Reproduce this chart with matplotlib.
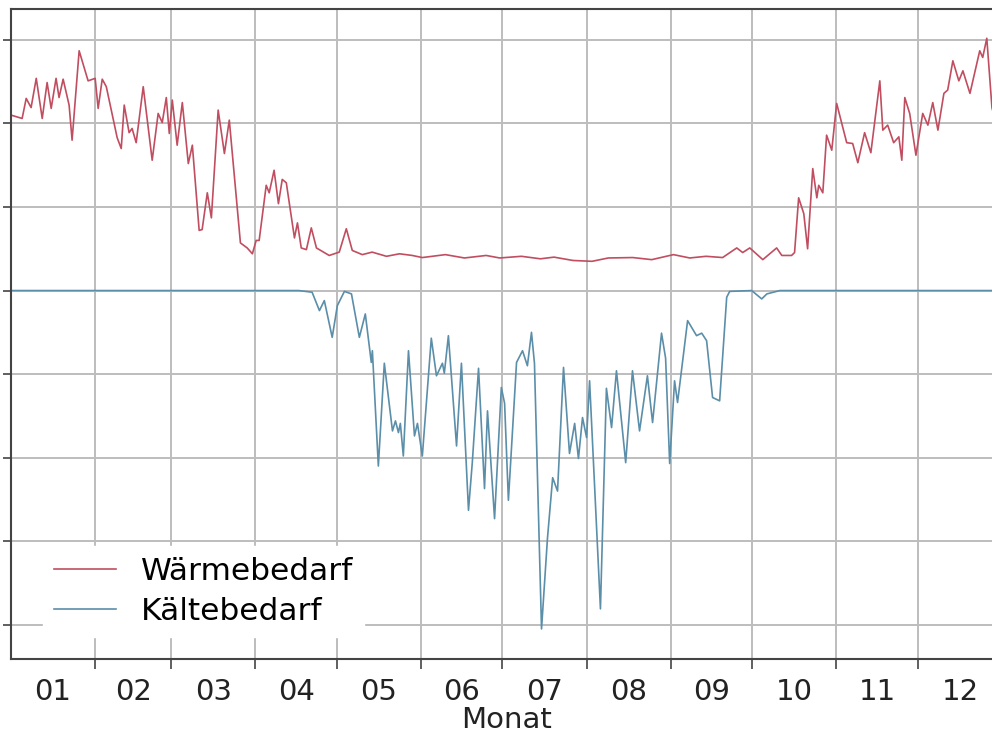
import numpy as np
import matplotlib
matplotlib.use("Agg")
import matplotlib.pyplot as plt

# Tagesnummer im Jahr (0 = 1. Januar) und Bedarf
waerme_tag = [0, 4.1, 5.6, 7.4, 9.3, 11.5, 13.3, 14.8, 16.6, 17.7, 19.2, 21.4, 22.5, 25.1, 28.4,
              31.0, 32.1, 33.6, 35.1, 39.1, 40.6, 41.7, 43.5, 44.6, 46.1, 48.7, 52.0, 54.2, 55.7,
              57.2, 58.3, 59.4, 61.2, 63.1, 65.3, 66.8, 69.3, 70.4, 72.3, 73.8, 76.3, 78.6, 80.4,
              84.5, 87.0, 88.9, 90.3, 91.4, 94.0, 95.1, 96.9, 98.5, 99.9, 101.4, 104.4, 105.5,
              106.9, 108.8, 110.6, 112.5, 117.2, 120.9, 123.5, 125.7, 129.4, 133.0, 138.3, 143.1,
              147.8, 151.5, 160, 167, 175, 180, 188, 195, 200, 207, 214, 220, 229, 236, 244, 250,
              256, 262.1, 267.3, 269.5, 272.1, 276.9, 282.0, 283.9, 287.5, 288.6, 290.1, 292.0,
              293.4, 295.3, 296.8, 297.5, 299.0, 300.4, 302.3, 304.1, 307.8, 310.0, 311.9, 314.4,
              316.7, 320.0, 321.1, 322.9, 325.1, 327.0, 328.1, 329.2, 331.0, 333.3, 335.8, 337.7,
              339.5, 341.4, 343.6, 345.0, 346.9, 349.1, 350.6, 353.2, 356.8, 357.9, 359.4, 361.3,
              363.5]
waerme = [21.0, 20.6, 23.0, 21.9, 25.4, 20.6, 24.9, 21.8, 25.4, 23.1, 25.3, 22.2, 18.0, 28.7, 25.1,
          25.4, 21.8, 25.3, 24.4, 18.3, 17.0, 22.2, 18.9, 19.4, 17.7, 24.4, 15.6, 21.2, 20.1,
          23.1, 18.8, 22.8, 17.4, 22.5, 15.2, 17.4, 7.2, 7.3, 11.7, 8.7, 21.6, 16.4, 20.4,
          5.7, 5.1, 4.4, 6.0, 6.0, 12.6, 11.7, 14.4, 10.4, 13.3, 12.9, 6.3, 8.1,
          5.1, 4.9, 7.5, 5.1, 4.2, 4.6, 7.4, 4.8, 4.3, 4.6, 4.1, 4.4,
          4.2, 3.95, 4.3, 3.9, 4.2, 3.9, 4.1, 3.8, 4.0, 3.6, 3.5, 3.9, 3.95, 3.7, 4.3, 3.9,
          4.1, 3.95, 5.1, 4.55, 5.1, 3.7, 5.1, 4.2, 4.2, 4.55, 11.1, 9.2,
          5.0, 14.6, 11.1, 12.6, 11.7, 18.6, 16.8, 22.4, 17.7, 17.6, 15.3, 18.9,
          16.5, 25.1, 19.2, 19.8, 17.7, 18.4, 15.6, 23.1, 21.2, 16.2, 21.2, 19.8,
          22.5, 19.2, 23.6, 24.0, 27.5, 25.1, 26.3, 23.6, 28.7, 27.9, 30.2, 21.9,
          19.0]

kaelte_tag = [0, 106.0, 110.9, 113.6, 115.4, 118.3, 120.2, 122.8, 125.4, 128.3, 130.5, 132.7, 133.1,
              135.3, 137.5, 140.5, 141.6, 142.7, 143.4, 144.5, 146.4, 148.6, 149.7, 151.5, 154.8,
              156.7, 158.9, 159.6, 161.1, 164.1, 165.9, 168.5, 169.9, 172.2, 174.4, 175.5, 178.1,
              180.6, 181.8, 183.2, 186.2, 188.4, 190.2, 191.7, 192.8, 195.4, 197.6, 199.5, 201.3,
              203.5, 205.7, 207.6, 209.0, 210.5, 212.0, 213.1, 217.1, 219.3, 221.2, 223.0, 226.4,
              228.9, 231.5, 234.4, 236.3, 239.6, 241.1, 242.6, 244.4, 245.5, 249.2, 252.5, 254.4,
              256.2, 258.4, 261.0, 263.6, 264.7, 272.8, 276.5, 278.4, 283.2, 364]
kaelte = [0, 0, -0.2, -2.4, -1.2, -5.6, -1.8, -0.1, -0.4, -5.6, -2.8, -8.6, -7.2,
          -21.0, -8.7, -16.8, -15.6, -17.0, -15.9, -19.8, -7.2, -17.4, -15.9, -19.8, -5.7,
          -10.2, -8.7, -9.9, -5.4, -18.6, -8.7, -26.3, -20.6, -9.3, -23.7, -14.4, -27.3,
          -11.6, -13.5, -25.1, -8.6, -7.2, -9.0, -5.0, -8.7, -40.5, -29.6, -22.4, -24.0,
          -9.2, -19.5, -15.9, -20.1, -15.2, -17.6, -10.8, -38.1, -11.7, -16.4, -9.6, -20.6,
          -9.6, -16.8, -10.2, -15.8, -5.1, -8.1, -20.7, -10.8, -13.4, -3.6, -5.4, -5.1,
          -6.0, -12.8, -13.2, -0.8, -0.1, 0, -1.0, -0.4, 0, 0]

monatsbeginn = [0, 31, 59, 90, 120, 151, 181, 212, 243, 273, 304, 334, 365]
monate = ["01", "02", "03", "04", "05", "06", "07", "08", "09", "10", "11", "12"]

fig = plt.figure(figsize=(9.92, 7.42), dpi=100)
ax = fig.add_axes([11 / 992, 83 / 742, 991 / 992, 650 / 742])

ax.plot(waerme_tag, waerme, color="#c04e60", lw=1.2, label="Wärmebedarf")
ax.plot(kaelte_tag, kaelte, color="#5b8ea9", lw=1.2, label="Kältebedarf")

ax.set_xlim(0, 365)
ax.set_ylim(-44.1, 33.7)
ax.set_yticks(np.arange(-40, 31, 10))
ax.tick_params(axis="y", labelleft=False, length=6, width=1.2, color="#444444")

ax.set_xticks(monatsbeginn[1:-1])
ax.set_xticks([(a + b) / 2 for a, b in zip(monatsbeginn[:-1], monatsbeginn[1:])], minor=True)
ax.set_xticklabels([])
ax.set_xticklabels(monate, minor=True, fontsize=21, color="#222222")
ax.tick_params(axis="x", which="major", length=7, width=1.2, color="#444444")
ax.tick_params(axis="x", which="minor", length=0, pad=14)
ax.set_xlabel("Monat", fontsize=21, color="#222222", labelpad=0)

ax.grid(True, which="major", color="#bdbdbd", lw=1.4)
ax.set_axisbelow(True)
for s in ax.spines.values():
    s.set_color("#444444")
    s.set_linewidth(1.5)

ax.legend(loc="lower left", bbox_to_anchor=(0.032, 0.034), borderaxespad=0,
          fontsize=22.5, frameon=True, framealpha=1, edgecolor="white", fancybox=False,
          borderpad=0.35, labelspacing=0.35)

fig.savefig("out.png", dpi=100)
